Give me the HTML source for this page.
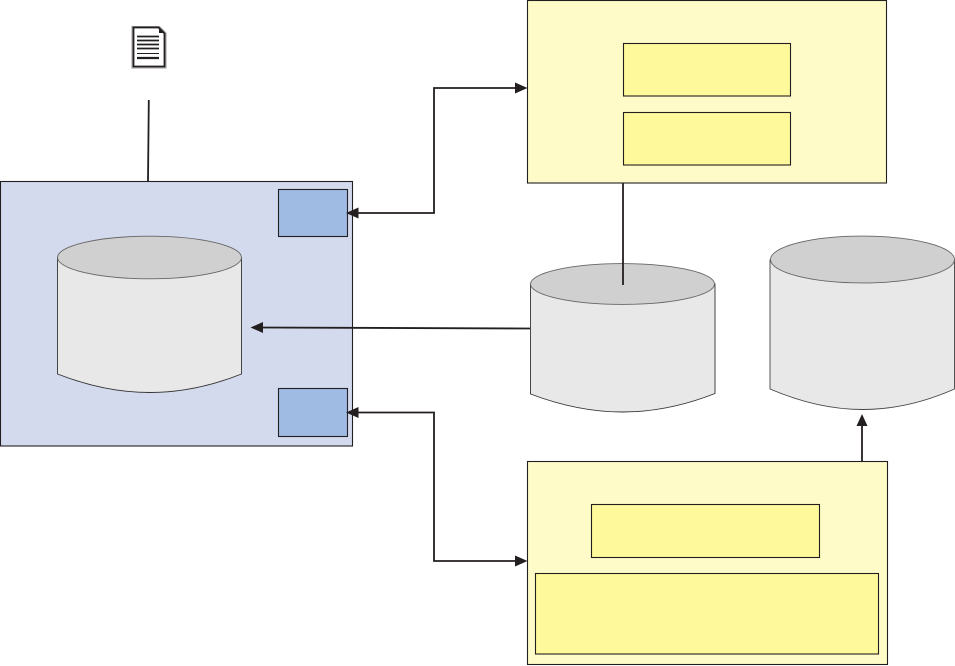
<!DOCTYPE html>
<html>
<head>
<meta charset="utf-8">
<style>
html,body{margin:0;padding:0;background:#fff;width:955px;height:666px;overflow:hidden}
svg{display:block}
</style>
</head>
<body>
<svg width="955" height="666" viewBox="0 0 955 666" xmlns="http://www.w3.org/2000/svg">
<!-- blue container -->
<rect x="0.5" y="181.5" width="352" height="264.5" fill="#d4daee" stroke="#231f20" stroke-width="1.1"/>
<rect x="278.5" y="189.5" width="69" height="47" fill="#a0bbe3" stroke="#231f20" stroke-width="1.1"/>
<rect x="278.5" y="388.5" width="69" height="48" fill="#a0bbe3" stroke="#231f20" stroke-width="1.1"/>

<!-- cylinder 1 -->
<path d="M57.5 258V374Q105 392.5 149.5 392.5Q195 392.5 241.5 374V258Z" fill="#e8e8e8" stroke="#333" stroke-width="0.9"/>
<ellipse cx="149.5" cy="257.5" rx="92" ry="21.3" fill="#d0d0d0" stroke="#666" stroke-width="0.9"/>

<!-- cylinder 2 -->
<path d="M530.5 284V394Q578 412 622.5 412Q668 412 715 393.5V284Z" fill="#e8e8e8" stroke="#333" stroke-width="0.9"/>
<ellipse cx="622.5" cy="284" rx="92" ry="20.4" fill="#d0d0d0" stroke="#666" stroke-width="0.9"/>

<!-- cylinder 3 -->
<path d="M770 260V389Q818 409.5 862.5 409.5Q908 409.5 954.5 389V260Z" fill="#e8e8e8" stroke="#444" stroke-width="0.9"/>
<ellipse cx="862.5" cy="259.5" rx="92" ry="23.4" fill="#d0d0d0" stroke="#666" stroke-width="0.9"/>

<!-- yellow top -->
<rect x="527.5" y="0.5" width="359" height="182.5" fill="#fefbc8" stroke="#231f20" stroke-width="1.1"/>
<rect x="623.5" y="43.5" width="167" height="52.5" fill="#fef99a" stroke="#231f20" stroke-width="1.1"/>
<rect x="623.5" y="112.5" width="167" height="52.5" fill="#fef99a" stroke="#231f20" stroke-width="1.1"/>

<!-- yellow bottom -->
<rect x="527.5" y="461.5" width="360" height="203" fill="#fefbc8" stroke="#231f20" stroke-width="1.1"/>
<rect x="591.5" y="504.5" width="228" height="53" fill="#fef99a" stroke="#231f20" stroke-width="1.1"/>
<rect x="535.5" y="573.5" width="343" height="80.5" fill="#fef99a" stroke="#231f20" stroke-width="1.1"/>

<!-- connectors -->
<g fill="none" stroke="#231f20" stroke-width="1.8">
<path d="M148.8 100L148 181.5"/>
<path d="M623 183V285"/>
<path d="M530 328.5L258 327.5"/>
<path d="M862 461V422"/>
<path d="M516 88H434V213H358"/>
<path d="M358 412.5H434V561H516"/>
</g>
<g fill="#231f20">
<path d="M250.5 327.5L263 322V333Z"/>
<path d="M862 414L856.500 426H867.500Z"/>
<path d="M527.5 88L515 82.5V93.5Z"/>
<path d="M346 213L358.5 207.5V218.5Z"/>
<path d="M346 412.5L358.5 407V418Z"/>
<path d="M527.5 561L515 555.5V566.5Z"/>
</g>

<!-- document icon -->
<path d="M132 26.500H159.500L166 33V68H132Z" fill="#fff" stroke="#9a9a9a" stroke-width="1"/>
<path d="M133.500 27.500H158.500L164.500 33.500V66.500H133.500Z" fill="#fff" stroke="#231f20" stroke-width="1.800"/>
<path d="M159 27V33H165Z" fill="#231f20"/>
<g stroke="#231f20" stroke-width="1.800">
<path d="M137 36.500H159"/>
<path d="M137 40.500H159"/>
<path d="M137 44.500H159"/>
<path d="M137 48.500H159"/>
<path d="M137 53.500H159" stroke-width="1.100"/>
<path d="M137 58H159" stroke-width="2.200"/>
</g>
</svg>
</body>
</html>
